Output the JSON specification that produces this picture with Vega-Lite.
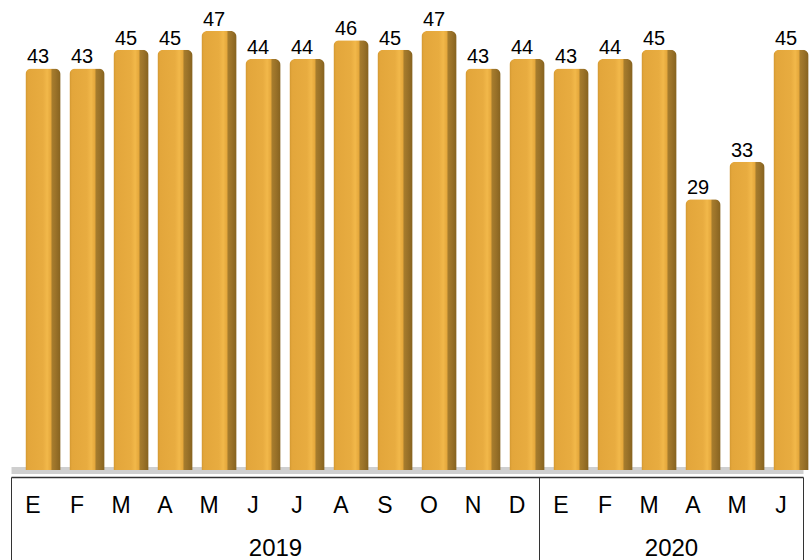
{
  "$schema": "https://vega.github.io/schema/vega-lite/v6.json",
  "width": 792,
  "height": 467,
  "autosize": {"type": "none"},
  "padding": {"left": 11, "right": 6, "top": 3, "bottom": 90},
  "background": "white",
  "config": {"view": {"stroke": null}, "font": "Liberation Sans"},
  "data": {
    "values": [
      {"k": "2019-01", "v": 43},
      {"k": "2019-02", "v": 43},
      {"k": "2019-03", "v": 45},
      {"k": "2019-04", "v": 45},
      {"k": "2019-05", "v": 47},
      {"k": "2019-06", "v": 44},
      {"k": "2019-07", "v": 44},
      {"k": "2019-08", "v": 46},
      {"k": "2019-09", "v": 45},
      {"k": "2019-10", "v": 47},
      {"k": "2019-11", "v": 43},
      {"k": "2019-12", "v": 44},
      {"k": "2020-01", "v": 43},
      {"k": "2020-02", "v": 44},
      {"k": "2020-03", "v": 45},
      {"k": "2020-04", "v": 29},
      {"k": "2020-05", "v": 33},
      {"k": "2020-06", "v": 45}
    ]
  },
  "layer": [
    {
      "mark": {
        "type": "bar",
        "width": {"band": 0.8},
        "xOffset": 10,
        "cornerRadiusTopLeft": 6,
        "cornerRadiusTopRight": 6,
        "fill": {
          "gradient": "linear",
          "x1": 0, "x2": 1, "y1": 0, "y2": 0,
          "stops": [
            {"offset": 0, "color": "#CF9530"},
            {"offset": 0.07, "color": "#E3A63B"},
            {"offset": 0.5, "color": "#E8AC40"},
            {"offset": 0.62, "color": "#F2B84A"},
            {"offset": 0.72, "color": "#E5A83C"},
            {"offset": 0.76, "color": "#A67C2D"},
            {"offset": 0.86, "color": "#9A7229"},
            {"offset": 1, "color": "#85621F"}
          ]
        }
      },
      "encoding": {
        "x": {
          "field": "k",
          "type": "nominal",
          "scale": {"paddingInner": 0, "paddingOuter": 0},
          "axis": {
            "orient": "bottom",
            "offset": 0,
            "title": null,
            "domain": true,
            "domainColor": "#cfcfcf",
            "domainWidth": 7,
            "ticks": false,
            "tickSize": 0,
            "labelExpr": "['E','F','M','A','M','J','J','A','S','O','N','D'][toNumber(slice(datum.value,5))-1]",
            "labelFont": "Liberation Sans",
            "labelFontSize": 23,
            "labelColor": "black",
            "labelBaseline": "middle",
            "labelPadding": 35,
            "labelAngle": 0
          }
        },
        "y": {
          "field": "v",
          "type": "quantitative",
          "scale": {"domain": [0, 50]},
          "axis": null
        }
      }
    },
    {
      "mark": {
        "type": "text",
        "xOffset": 5,
        "dy": -5,
        "baseline": "alphabetic",
        "fontSize": 20,
        "font": "Liberation Sans",
        "color": "black"
      },
      "encoding": {
        "x": {
          "field": "k",
          "type": "nominal",
          "scale": {"paddingInner": 0, "paddingOuter": 0},
          "axis": {
            "orient": "bottom",
            "offset": 7,
            "title": null,
            "domain": true,
            "domainColor": "#333333",
            "domainWidth": 1.5,
            "ticks": true,
            "tickBand": "extent",
            "tickSize": 95,
            "tickColor": "#333333",
            "tickWidth": 1,
            "tickOpacity": {
              "condition": {"test": "datum.index < 0 || datum.value == '2019-12' || datum.value == '2020-06'", "value": 1},
              "value": 0
            },
            "labelExpr": "datum.value == '2019-06' ? '2019' : datum.value == '2020-03' ? '2020' : ''",
            "labelOffset": 22,
            "labelFont": "Liberation Sans",
            "labelFontSize": 24,
            "labelColor": "black",
            "labelBaseline": "middle",
            "labelPadding": -24,
            "labelAngle": 0,
            "labelOverlap": false
          }
        },
        "y": {"field": "v", "type": "quantitative"},
        "text": {"field": "v", "type": "quantitative"}
      }
    }
  ],
  "resolve": {"axis": {"x": "independent"}}
}
